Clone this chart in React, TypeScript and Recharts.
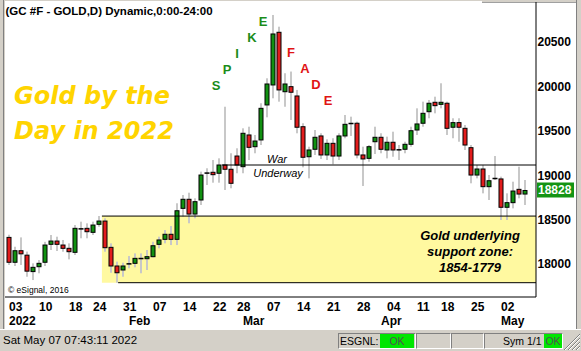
import React from 'react';
import { ComposedChart, Bar, XAxis, YAxis, ReferenceArea, ReferenceLine } from 'recharts';

// --- trading sessions, Jan 3 - May 6 2022 (MM-DD) ---
const dates = [
  '01-03', '01-04', '01-05', '01-06', '01-07', '01-10', '01-11', '01-12', '01-13', '01-14',
  '01-18', '01-19', '01-20', '01-21', '01-24', '01-25', '01-26', '01-27', '01-28', '01-31',
  '02-01', '02-02', '02-03', '02-04', '02-07', '02-08', '02-09', '02-10', '02-11', '02-14',
  '02-15', '02-16', '02-17', '02-18', '02-22', '02-23', '02-24', '02-25', '02-28', '03-01',
  '03-02', '03-03', '03-04', '03-07', '03-08', '03-09', '03-10', '03-11', '03-14', '03-15',
  '03-16', '03-17', '03-18', '03-21', '03-22', '03-23', '03-24', '03-25', '03-28', '03-29',
  '03-30', '03-31', '04-01', '04-04', '04-05', '04-06', '04-07', '04-08', '04-11', '04-12',
  '04-13', '04-14', '04-18', '04-19', '04-20', '04-21', '04-22', '04-25', '04-26', '04-27',
  '04-28', '04-29', '05-02', '05-03', '05-04', '05-05', '05-06',
];

const opens = [
  18300, 18020, 18150, 18100, 17915, 17970, 18020, 18222, 18259, 18214,
  18177, 18132, 18396, 18402, 18357, 18447, 18484, 18188, 17978, 17933,
  17998, 18008, 18058, 18060, 18083, 18222, 18278, 18335, 18278, 18627,
  18729, 18563, 18721, 19024, 19033, 19022, 19115, 19067, 19216, 19096,
  19453, 19321, 19397, 19791, 20016, 20609, 19940, 19997, 19892, 19546,
  19208, 19292, 19442, 19228, 19359, 19216, 19442, 19582, 19585, 19228,
  19190, 19377, 19427, 19284, 19371, 19286, 19292, 19348, 19509, 19585,
  19715, 19821, 19798, 19810, 19540, 19592, 19528, 19310, 19002, 19070,
  18871, 18963, 18958, 18639, 18691, 18841, 18788,
];
const highs = [
  18330, 18195, 18300, 18140, 18008, 18045, 18250, 18327, 18308, 18271,
  18233, 18439, 18477, 18458, 18477, 18541, 18515, 18233, 18027, 18015,
  18090, 18120, 18120, 18158, 18251, 18308, 18383, 18428, 18684, 18777,
  18803, 18740, 19040, 19078, 19171, 19190, 19771, 19247, 19303, 19528,
  19546, 19453, 19810, 20091, 20804, 20672, 20148, 20167, 19960, 19585,
  19321, 19509, 19472, 19404, 19416, 19472, 19678, 19659, 19603, 19321,
  19340, 19546, 19472, 19434, 19490, 19340, 19377, 19546, 19753, 19828,
  19847, 19884, 20035, 19828, 19641, 19641, 19565, 19340, 19115, 19115,
  19002, 19216, 18984, 18796, 18927, 19096, 18946,
];
const lows = [
  17990, 17978, 17990, 17857, 17820, 17896, 17978, 18158, 18147, 18139,
  18053, 18102, 18290, 18290, 18327, 18420, 18139, 17902, 17790, 17857,
  17952, 17963, 17896, 17933, 18075, 18177, 18233, 18214, 18214, 18533,
  18459, 18515, 18665, 18890, 18916, 18916, 18834, 18853, 19022, 19022,
  19171, 19247, 19340, 19652, 19866, 19828, 19771, 19622, 19472, 19089,
  18965, 19228, 19183, 19171, 19123, 19171, 19416, 19442, 19190, 18879,
  19152, 19239, 19247, 19190, 19208, 19171, 19247, 19321, 19453, 19546,
  19641, 19697, 19753, 19453, 19416, 19377, 19284, 18909, 18965, 18796,
  18721, 18946, 18496, 18496, 18627, 18740, 18665,
];
const closes = [
  18020, 18150, 18115, 17920, 17963, 18008, 18214, 18259, 18222, 18177,
  18139, 18402, 18394, 18364, 18439, 18484, 18184, 17978, 17902, 17978,
  18002, 18064, 18062, 18083, 18206, 18271, 18335, 18278, 18600, 18729,
  18563, 18702, 19002, 19020, 19006, 19115, 19067, 18909, 19115, 19472,
  19314, 19385, 19753, 20027, 20590, 19960, 20027, 19934, 19540, 19202,
  19284, 19427, 19228, 19359, 19216, 19442, 19573, 19578, 19228, 19183,
  19321, 19427, 19292, 19371, 19284, 19282, 19348, 19501, 19577, 19697,
  19810, 19783, 19821, 19528, 19592, 19540, 19340, 19002, 19070, 18871,
  18938, 18959, 18639, 18691, 18822, 18788, 18828,
];

const yTicks = [18000, 18500, 19000, 19500, 20000, 20500];
const monthNames = ['2022', 'Feb', 'Mar', 'Apr', 'May'];
const supportTop = 18540;
const supportBottom = 17790;
const warLevel = 19115;
const spike = ['S', 'P', 'I', 'K', 'E'];
const fade = ['F', 'A', 'D', 'E'];
const zoneText = ['Gold underlying', 'support zone:', '1854-1779'];

const GREEN = '#119111';
const RED = '#e21c1c';
const FONT = "'Liberation Sans', Arial, sans-serif";

const data = dates.map((d, i) => ({ i, date: d, o: opens[i], h: highs[i], l: lows[i], c: closes[i] }));
const lastClose = closes[closes.length - 1];

// day label on first session of each week, month label on first session of month
const dow = dates.map((d) => {
  const [m, day] = d.split('-').map(Number);
  return new Date(2022, m - 1, day).getDay();
});
const dayLabel: Record<number, string> = {};
const monthLabel: Record<number, string> = {};
dates.forEach((d, i) => {
  if (i === 0 || dow[i] <= dow[i - 1]) dayLabel[i] = d.slice(3);
  const m = Number(d.slice(0, 2));
  if (i === 0 || m !== Number(dates[i - 1].slice(0, 2))) monthLabel[i] = monthNames[m - 1];
});
const xTicks = Array.from(new Set([...Object.keys(dayLabel), ...Object.keys(monthLabel)].map(Number))).sort((a, b) => a - b);

const Candle = (props: any) => {
  const { x, y, width, height, payload } = props;
  const { o, h, l, c } = payload;
  const top = Math.min(y, y + height);
  const span = Math.abs(height);
  const k = span / (h - l);
  const py = (v: number) => top + (h - v) * k;
  const cx = x + width / 2;
  const bTop = py(Math.max(o, c));
  const bBot = py(Math.min(o, c));
  const doji = Math.abs(o - c) <= 4;
  return (
    <g>
      <rect x={cx - 1} y={top} width={2} height={span} fill="#c8c8c8" />
      {doji ? (
        <rect x={x} y={bTop - 0.75} width={width} height={1.5} fill="#000" />
      ) : (
        <rect x={x + 0.5} y={bTop} width={width - 1} height={Math.max(bBot - bTop, 1)}
          fill={c > o ? GREEN : RED} stroke="#000" strokeWidth={1} />
      )}
    </g>
  );
};

const DateTick = (props: any) => {
  const { x, y, payload } = props;
  const i = payload.value;
  return (
    <g fontFamily={FONT} fontWeight="bold" fontSize={12} fill="#000">
      {dayLabel[i] && <text x={x - 0.5} y={y + 13.5}>{dayLabel[i]}</text>}
      {monthLabel[i] && <text x={x - 0.5} y={y + 28}>{monthLabel[i]}</text>}
    </g>
  );
};

const PriceTick = (props: any) => {
  const { x, y, payload } = props;
  const v = payload.value;
  if (v === lastClose) {
    return (
      <g>
        <rect x={x + 1} y={y - 8} width={37} height={15} fill="#149414" />
        <text x={x + 2} y={y + 4} fill="#fff" fontFamily={FONT} fontWeight="bold" fontSize={12}>{v}</text>
      </g>
    );
  }
  return <text x={x + 1.5} y={y + 4.3} fill="#000" fontFamily={FONT} fontWeight="bold" fontSize={12}>{v}</text>;
};

const panel: React.CSSProperties = {
  position: 'absolute', top: 333, height: 14, borderTop: '1px solid #808080', borderLeft: '1px solid #808080',
  borderBottom: '1px solid #fff', borderRight: '1px solid #fff', fontFamily: FONT, fontSize: 10.5, lineHeight: '14px',
  whiteSpace: 'nowrap',
};
const okBox: React.CSSProperties = {
  position: 'absolute', top: 0, height: 14, background: '#00e600', color: '#505050', textAlign: 'center',
};

export default function App() {
  return (
    <div style={{ position: 'fixed', left: 0, top: 0, width: 581, height: 351, background: '#d4d0c8', overflow: 'hidden' }}>
      <div style={{ position: 'absolute', left: 3, top: 0, width: 1, height: 329, background: '#808080' }} />
      <div style={{ position: 'absolute', left: 5, top: 1, width: 571, height: 328, background: '#fff' }} />
      <div style={{ position: 'absolute', left: 576, top: 0, width: 1, height: 329, background: '#808080' }} />
      <div style={{ position: 'absolute', left: 482, top: 0, width: 94, height: 2, background: '#d4d0c8', borderBottom: '1px solid #a0a0a0' }} />

      <div style={{ position: 'absolute', left: 0, top: 0 }}>
        <ComposedChart width={581} height={351} data={data} margin={{ top: 2, right: 0, bottom: 24, left: 5 }}>
          <XAxis dataKey="i" type="number" domain={[-0.75, 87.75]} allowDataOverflow ticks={xTicks} interval={0}
            tick={DateTick} tickLine={false} tickSize={0} tickMargin={0} height={30} axisLine={{ stroke: '#000' }} />
          <YAxis orientation="right" width={45} domain={[17629, 20950]} allowDataOverflow ticks={[...yTicks, lastClose]}
            interval={0} tick={PriceTick} tickLine={false} tickSize={0} tickMargin={0} axisLine={{ stroke: '#000' }} />
          <ReferenceArea x1={15.4} x2={87.75} y1={supportBottom} y2={supportTop} fill="#fff9a0" fillOpacity={1} stroke="none" />
          <ReferenceLine segment={[{ x: 15.4, y: supportTop }, { x: 87.75, y: supportTop }]} stroke="#000" strokeWidth={1} />
          <ReferenceLine segment={[{ x: 18.1, y: supportBottom }, { x: 87.75, y: supportBottom }]} stroke="#000" strokeWidth={1} />
          <ReferenceLine segment={[{ x: 35.4, y: warLevel }, { x: 87.75, y: warLevel }]} stroke="#000" strokeWidth={1} />
          <Bar dataKey={(d: any) => [d.l, d.h]} barSize={5} shape={Candle} isAnimationActive={false} />
        </ComposedChart>
      </div>

      <svg width={581} height={351} style={{ position: 'absolute', left: 0, top: 0, pointerEvents: 'none' }}>
        <text x={5.5} y={15} fontFamily={FONT} fontWeight="bold" fontSize={11.5} fill="#000">
          (GC #F - GOLD,D) Dynamic,0:00-24:00
        </text>
        <g fontFamily="'DejaVu Sans', sans-serif" fontWeight="bold" fontStyle="italic" fontSize={24} fill="#ffd400">
          <text x={14} y={104}>Gold by the</text>
          <text x={14} y={139}>Day in 2022</text>
        </g>
        <g fontFamily={FONT} fontWeight="bold" fontSize={13} fill="#1a8c1a" textAnchor="middle">
          {spike.map((s, k) => (
            <text key={k} x={[216, 227, 237, 252, 263][k]} y={[90, 74, 58, 42, 26][k]}>{s}</text>
          ))}
        </g>
        <g fontFamily={FONT} fontWeight="bold" fontSize={13} fill="#e01414" textAnchor="middle">
          {fade.map((s, k) => (
            <text key={k} x={[291, 305, 316, 328][k]} y={[57, 73, 89, 105][k]}>{s}</text>
          ))}
        </g>
        <g fontFamily={FONT} fontStyle="italic" fontSize={11} fill="#000" textAnchor="middle">
          <text x={277} y={163}>War</text>
          <text x={278} y={177}>Underway</text>
        </g>
        <g fontFamily={FONT} fontWeight="bold" fontStyle="italic" fontSize={13} fill="#000" textAnchor="middle">
          {zoneText.map((t, k) => (
            <text key={k} x={470} y={240 + k * 16}>{t}</text>
          ))}
        </g>
        <text x={8} y={293} fontFamily={FONT} fontSize={8.5} fill="#000">© eSignal, 2016</text>
      </svg>

      <div style={{ position: 'absolute', left: 0, top: 329, width: 581, height: 1, background: '#fff' }} />
      <div style={{ position: 'absolute', left: 3, top: 334, fontFamily: FONT, fontSize: 11.5, color: '#000' }}>
        Sat May 07 07:43:11 2022
      </div>
      <div style={{ ...panel, left: 338, width: 76 }}>
        <span style={{ position: 'absolute', left: 1, top: 0 }}>ESGNL:</span>
        <div style={{ ...okBox, left: 41, width: 34 }}>OK</div>
      </div>
      <div style={{ ...panel, left: 416, width: 33 }} />
      <div style={{ ...panel, left: 451, width: 31 }} />
      <div style={{ ...panel, left: 484, width: 77 }}>
        <span style={{ position: 'absolute', left: 18, top: 0 }}>Sym 1/1</span>
        <div style={{ ...okBox, left: 59, width: 18 }}>OK</div>
      </div>
      <svg width={16} height={16} style={{ position: 'absolute', left: 564, top: 334 }}>
        {[0, 4, 8, 12].map((o) => (
          <g key={o}>
            <line x1={16} y1={o} x2={o} y2={16} stroke="#808080" strokeWidth={1} />
            <line x1={16} y1={o + 1} x2={o + 1} y2={16} stroke="#fff" strokeWidth={1} />
          </g>
        ))}
      </svg>
    </div>
  );
}
